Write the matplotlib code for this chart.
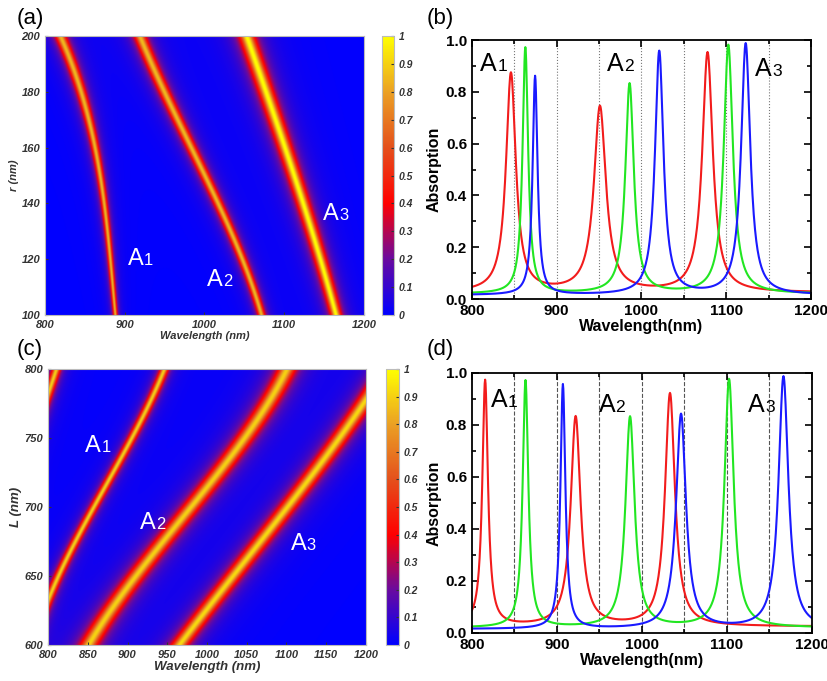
import numpy as np
import matplotlib
matplotlib.use('Agg')
import matplotlib.pyplot as plt
from matplotlib.colors import LinearSegmentedColormap
from matplotlib.ticker import MultipleLocator

# ---------------- data ----------------
# (a) ridge positions (nm) and half widths of the modes vs radius r
r_pts = [100, 120, 140, 160, 180, 200]
a_A1 = [888, 881, 874, 863, 844, 819]
a_A2 = [1071, 1046, 1015, 986, 946, 919]
a_A3 = [1164, 1144, 1123, 1100, 1076, 1052]
a_A1_w = [2.3, 2.8, 3.3, 4.0, 5.0, 6.0]
a_A2_w = [4.0, 4.5, 5.0, 5.5, 6.0, 6.5]
a_A3_w = [5.5, 6.0, 6.5, 7.0, 7.5, 8.0]
a_amp = [0.85, 0.85, 1.0]

# (c) ridge positions (nm) and half widths of the modes vs L
L_A0 = [740, 782, 800]
c_A0 = [776, 800, 811]
L_A1 = [600, 633, 650, 700, 750, 800]
c_A1 = [782, 800, 813, 859, 905, 947]
L_pts = [600, 650, 700, 750, 800]
c_A2 = [852, 908, 985, 1045, 1102]
c_A3 = [966, 1032, 1104, 1166, 1226]
c_w = [4.5, 4.5, 9.5, 9.0]
c_amp = [0.9, 0.9, 0.9, 0.92]

# (b) absorption peaks: position, height, FWHM
b_red_pos = [846, 951, 1078]
b_red_h = [0.87, 0.74, 0.95]
b_red_w = [14, 17, 15]
b_green_pos = [863, 986, 1102.5]
b_green_h = [0.97, 0.83, 0.98]
b_green_w = [8, 12, 13]
b_blue_pos = [874.5, 1021, 1123]
b_blue_h = [0.86, 0.955, 0.985]
b_blue_w = [7, 12, 13]

# (d) absorption peaks
d_red_pos = [815.5, 922, 1033]
d_red_h = [0.97, 0.83, 0.92]
d_red_w = [8, 14, 14]
d_green_pos = [863, 986, 1102.5]
d_green_h = [0.97, 0.83, 0.975]
d_green_w = [8, 13, 13]
d_blue_pos = [907, 1046, 1166.5]
d_blue_h = [0.955, 0.84, 0.985]
d_blue_w = [7, 14, 14]

baseline = {'r': 0.025, 'g': 0.02, 'b': 0.015}
guide_lines = [850, 900, 950, 1000, 1050, 1100, 1150]

# -----------------------------------------------------------
cmap = LinearSegmentedColormap.from_list('abs', [
    (0.0, '#0000ff'), (0.2, '#6a0a9e'), (0.4, '#ff0000'),
    (0.6, '#e4501c'), (0.8, '#eba024'), (1.0, '#ffff00')])

wl = np.linspace(800, 1200, 801)

RED, GREEN, BLUE = '#f21c1c', '#22e622', '#1a1aff'


def field(ys, ridges, amps):
    # ridges: list of (y points, centre points, half widths)
    Z = np.zeros((len(ys), len(wl)))
    for (yp, xp, wp), a in zip(ridges, amps):
        deg = 1 if len(yp) <= 3 else 3
        c = np.polyval(np.polyfit(yp, xp, deg), ys)
        g = np.interp(ys, yp, np.broadcast_to(wp, len(yp)))
        d = wl[None, :] - c[:, None]
        Z += a * g[:, None]**2 / (d**2 + g[:, None]**2)
    return np.clip(Z, 0, 1)


def spectrum(pos, h, w, base):
    y = np.full_like(wl, base)
    for p, hh, ww in zip(pos, h, w):
        g = ww / 2
        y += (hh - base) * g**2 / ((wl - p)**2 + g**2)
    return y


def mode_label(ax, x, y, n, color, size=17):
    ax.text(x, y, 'A', color=color, fontsize=size, family='Liberation Sans',
            va='baseline')
    ax.annotate(str(n), xy=(x, y), xytext=(size * 0.68, 0),
                textcoords='offset points', fontsize=size * 0.7,
                family='Liberation Sans', color=color, va='baseline')


def style_map(ax, xlabel, ylabel, lsize):
    ax.set_xlabel(xlabel, fontsize=lsize, fontweight='bold', style='italic',
                  color='#333333', labelpad=1)
    ax.set_ylabel(ylabel, fontsize=lsize, fontweight='bold', style='italic',
                  color='#333333', labelpad=2)
    ax.tick_params(labelsize=8, colors='#333333', length=2, direction='in')
    for lab in ax.get_xticklabels() + ax.get_yticklabels():
        lab.set_fontweight('bold')
        lab.set_style('italic')
    for s in ax.spines.values():
        s.set_color('#bbbbbb')


def style_cbar(cax, cb):
    cb.set_ticks(np.arange(0, 1.01, 0.1))
    cb.set_ticklabels(['0'] + ['%.1f' % v for v in np.arange(0.1, 0.95, 0.1)] + ['1'])
    cax.tick_params(labelsize=7.5, colors='#333333', length=2, direction='in')
    for lab in cax.get_yticklabels():
        lab.set_fontweight('bold')
        lab.set_style('italic')
    cb.outline.set_edgecolor('#bbbbbb')


def style_spec(ax, ls, col):
    for g in guide_lines:
        ax.axvline(g, color=col, lw=0.8, ls=ls, zorder=0)
    ax.set_xlim(800, 1200)
    ax.set_ylim(0, 1.0)
    ax.xaxis.set_major_locator(MultipleLocator(100))
    ax.xaxis.set_minor_locator(MultipleLocator(50))
    ax.yaxis.set_major_locator(MultipleLocator(0.2))
    ax.yaxis.set_minor_locator(MultipleLocator(0.1))
    ax.tick_params(which='both', direction='in', top=True, right=True,
                   labelsize=11, width=1.2)
    ax.tick_params(which='major', length=5)
    ax.tick_params(which='minor', length=3)
    ax.set_yticklabels(['%.1f' % v for v in ax.get_yticks()])
    for lab in ax.get_xticklabels() + ax.get_yticklabels():
        lab.set_fontweight('bold')
    for s in ax.spines.values():
        s.set_linewidth(1.3)
    ax.set_xlabel('Wavelength(nm)', fontsize=11.5, fontweight='bold', labelpad=1)
    ax.set_ylabel('Absorption', fontsize=11.5, fontweight='bold', labelpad=3)


plt.rcParams['font.family'] = ['Liberation Sans', 'DejaVu Sans']
fig = plt.figure(figsize=(8.28, 6.81), dpi=100)

# ---------- (a) ----------
ax_a = fig.add_axes([0.0543, 0.5374, 0.3853, 0.4097])
r = np.linspace(100, 200, 401)
Za = field(r, [(r_pts, a_A1, a_A1_w), (r_pts, a_A2, a_A2_w),
               (r_pts, a_A3, a_A3_w)], a_amp)
im = ax_a.imshow(Za, extent=[800, 1200, 100, 200], origin='lower',
                 aspect='auto', cmap=cmap, vmin=0, vmax=1,
                 interpolation='bilinear')
ax_a.set_xticks([800, 900, 1000, 1100, 1200])
ax_a.set_yticks([100, 120, 140, 160, 180, 200])
style_map(ax_a, 'Wavelength (nm)', 'r (nm)', 8)
mode_label(ax_a, 904, 118, 1, 'white')
mode_label(ax_a, 1003, 110.5, 2, 'white')
mode_label(ax_a, 1149, 134, 3, 'white')
cax_a = fig.add_axes([0.4614, 0.5374, 0.0145, 0.4097])
style_cbar(cax_a, fig.colorbar(im, cax=cax_a))

# ---------- (c) ----------
ax_c = fig.add_axes([0.058, 0.0529, 0.384, 0.4053])
L = np.linspace(600, 800, 401)
Zc = field(L, [(L_A0, c_A0, c_w[0]), (L_A1, c_A1, c_w[1]),
               (L_pts, c_A2, c_w[2]), (L_pts, c_A3, c_w[3])], c_amp)
im2 = ax_c.imshow(Zc, extent=[800, 1200, 600, 800], origin='lower',
                  aspect='auto', cmap=cmap, vmin=0, vmax=1,
                  interpolation='bilinear')
ax_c.set_xticks(np.arange(800, 1201, 50))
ax_c.set_yticks([600, 650, 700, 750, 800])
style_map(ax_c, 'Wavelength (nm)', 'L (nm)', 9.5)
mode_label(ax_c, 847, 740, 1, 'white')
mode_label(ax_c, 916, 684, 2, 'white')
mode_label(ax_c, 1105, 669, 3, 'white')
cax_c = fig.add_axes([0.4662, 0.0529, 0.0157, 0.4053])
style_cbar(cax_c, fig.colorbar(im2, cax=cax_c))

# ---------- (b) ----------
ax_b = fig.add_axes([0.570, 0.5609, 0.4094, 0.3803])
ax_b.plot(wl, spectrum(b_red_pos, b_red_h, b_red_w, baseline['r']), color=RED, lw=1.5)
ax_b.plot(wl, spectrum(b_green_pos, b_green_h, b_green_w, baseline['g']), color=GREEN, lw=1.5)
ax_b.plot(wl, spectrum(b_blue_pos, b_blue_h, b_blue_w, baseline['b']), color=BLUE, lw=1.5)
style_spec(ax_b, ':', '#777777')
mode_label(ax_b, 810, 0.88, 1, 'black', 18)
mode_label(ax_b, 959, 0.88, 2, 'black', 18)
mode_label(ax_b, 1134, 0.86, 3, 'black', 18)

# ---------- (d) ----------
ax_d = fig.add_axes([0.570, 0.0705, 0.4106, 0.3818])
ax_d.plot(wl, spectrum(d_red_pos, d_red_h, d_red_w, baseline['r']), color=RED, lw=1.5)
ax_d.plot(wl, spectrum(d_green_pos, d_green_h, d_green_w, baseline['g']), color=GREEN, lw=1.5)
ax_d.plot(wl, spectrum(d_blue_pos, d_blue_h, d_blue_w, baseline['b']), color=BLUE, lw=1.5)
style_spec(ax_d, '--', '#555555')
mode_label(ax_d, 822, 0.87, 1, 'black', 18)
mode_label(ax_d, 949, 0.85, 2, 'black', 18)
mode_label(ax_d, 1125, 0.85, 3, 'black', 18)

# panel letters
for x, y, s in [(0.02, 0.988, '(a)'), (0.515, 0.988, '(b)'),
                (0.02, 0.502, '(c)'), (0.515, 0.502, '(d)')]:
    fig.text(x, y, s, fontsize=16, va='top', ha='left')

fig.savefig('out.png', dpi=100)
